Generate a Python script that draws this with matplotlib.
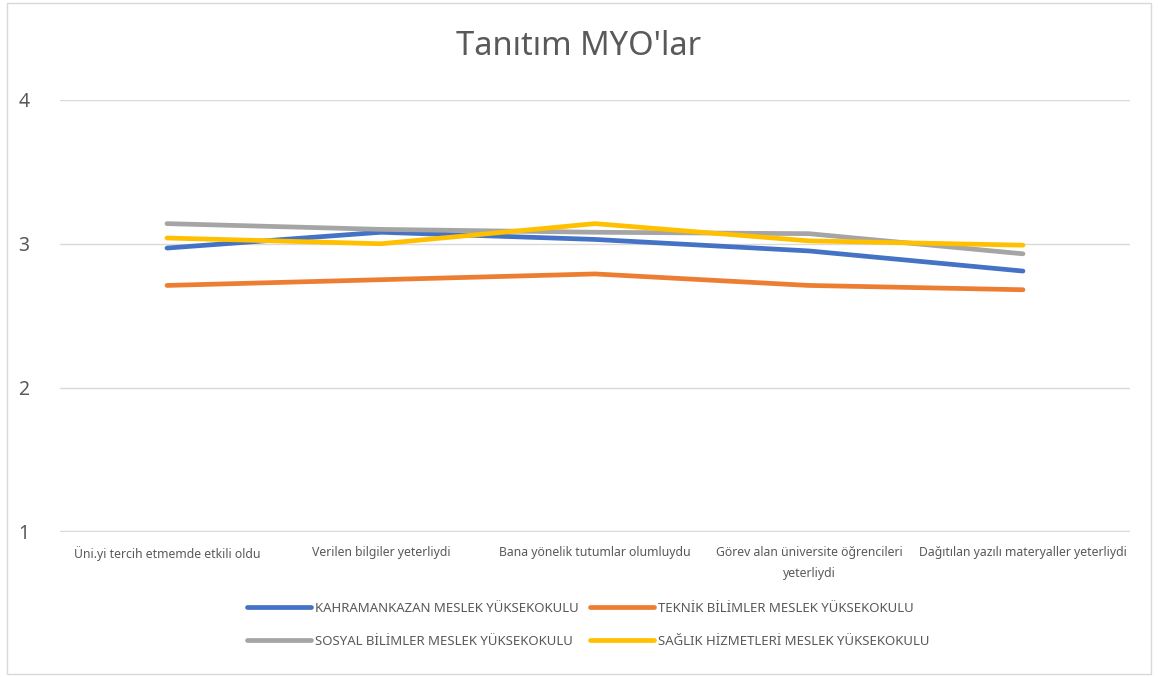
import matplotlib
matplotlib.use("Agg")
import matplotlib.pyplot as plt
from matplotlib.patches import Rectangle

plt.rcParams["font.family"] = ["Liberation Sans Narrow", "Noto Sans", "DejaVu Sans"]

CATEGORIES = [
    "Üni.yi tercih etmemde etkili oldu",
    "Verilen bilgiler yeterliydi",
    "Bana yönelik tutumlar olumluydu",
    "Görev alan üniversite öğrencileri\nyeterliydi",
    "Dağıtılan yazılı materyaller yeterliydi",
]
SERIES_NAMES = [
    "KAHRAMANKAZAN MESLEK YÜKSEKOKULU",
    "TEKNİK BİLİMLER MESLEK YÜKSEKOKULU",
    "SOSYAL BİLİMLER MESLEK YÜKSEKOKULU",
    "SAĞLIK HİZMETLERİ MESLEK YÜKSEKOKULU",
]
kahramankazan = [2.97, 3.08, 3.03, 2.95, 2.81]
teknik = [2.71, 2.75, 2.79, 2.71, 2.68]
sosyal = [3.14, 3.10, 3.08, 3.07, 2.93]
saglik = [3.04, 3.00, 3.14, 3.02, 2.99]
COLORS = ["#4472C4", "#ED7D31", "#A5A5A5", "#FFC000"]
Y_TICKS = [1, 2, 3, 4]

fig = plt.figure(figsize=(11.58, 6.77), dpi=100)
ax = fig.add_axes([0.0518, 0.2142, 0.9240, 0.6381])

x = list(range(len(CATEGORIES)))
lines = []
for vals, name, c in zip([kahramankazan, teknik, sosyal, saglik], SERIES_NAMES, COLORS):
    ln, = ax.plot(x, vals, color=c, lw=3.4, solid_capstyle="round",
                  solid_joinstyle="round", label=name)
    lines.append(ln)

ax.set_xlim(-0.5, len(CATEGORIES) - 0.5)
ax.set_ylim(0.995, 4)
ax.set_yticks(Y_TICKS)
ax.set_xticks(x)
ax.set_xticklabels(CATEGORIES, fontsize=8.8, color="#595959", linespacing=1.8)
ax.tick_params(axis="y", labelsize=14, labelcolor="#595959", length=0, pad=22)
ax.tick_params(axis="x", length=0, pad=10)
ax.grid(axis="y", color="#d9d9d9", lw=1)
ax.set_axisbelow(True)
for s in ax.spines.values():
    s.set_visible(False)

fig.text(0.5, 0.932, "Tanıtım MYO'lar", ha="center", va="center", fontsize=23.5,
         color="#595959")

# matplotlib fills legend columns first; reorder so rows read like the original
order = [0, 2, 1, 3]
leg = fig.legend([lines[i] for i in order], [SERIES_NAMES[i] for i in order],
                 loc="center", bbox_to_anchor=(0.508, 0.077), ncol=2, frameon=False,
                 fontsize=9.5, handlelength=4.9, handletextpad=0.3, columnspacing=0.8,
                 labelspacing=1.5)
for t in leg.get_texts():
    t.set_color("#595959")

fig.patches.append(Rectangle((0.006, 0.004), 0.988, 0.992, transform=fig.transFigure,
                             fill=False, edgecolor="#d9d9d9", lw=1))

fig.savefig("out.png", dpi=100)
